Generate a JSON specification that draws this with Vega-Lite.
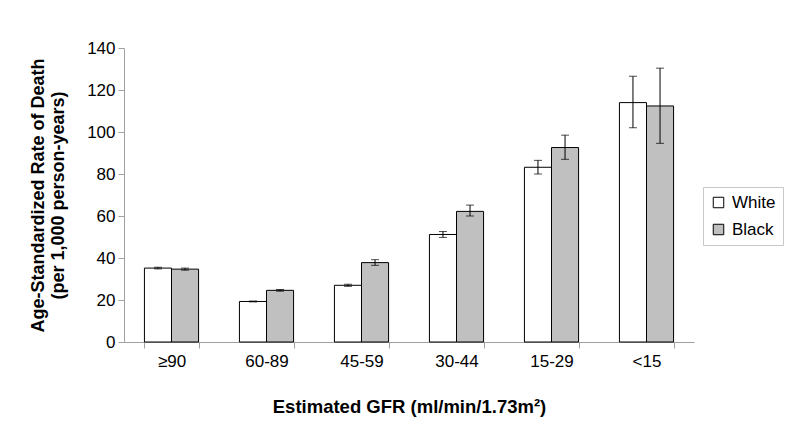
{
  "$schema": "https://vega.github.io/schema/vega-lite/v6.json",
  "width": 570,
  "height": 294,
  "autosize": "none",
  "padding": {"left": 124, "top": 48, "right": 106, "bottom": 98},
  "background": "white",
  "config": {"view": {"stroke": null}, "font": "Liberation Sans"},
  "data": {"values": [
    {"gfr": "≥90", "race": "White", "rate": 35.2, "lo": 34.8, "hi": 35.6},
    {"gfr": "≥90", "race": "Black", "rate": 34.7, "lo": 34.2, "hi": 35.2},
    {"gfr": "60-89", "race": "White", "rate": 19.3, "lo": 19.1, "hi": 19.5},
    {"gfr": "60-89", "race": "Black", "rate": 24.6, "lo": 24.2, "hi": 25.0},
    {"gfr": "45-59", "race": "White", "rate": 27.0, "lo": 26.5, "hi": 27.5},
    {"gfr": "45-59", "race": "Black", "rate": 37.8, "lo": 36.5, "hi": 39.2},
    {"gfr": "30-44", "race": "White", "rate": 51.2, "lo": 49.8, "hi": 52.6},
    {"gfr": "30-44", "race": "Black", "rate": 62.2, "lo": 60.0, "hi": 65.2},
    {"gfr": "15-29", "race": "White", "rate": 83.2, "lo": 80.0, "hi": 86.5},
    {"gfr": "15-29", "race": "Black", "rate": 92.6, "lo": 87.0, "hi": 98.5},
    {"gfr": "<15", "race": "White", "rate": 114.0, "lo": 102.0, "hi": 126.5},
    {"gfr": "<15", "race": "Black", "rate": 112.4, "lo": 94.6, "hi": 130.4}
  ]},
  "encoding": {
    "x": {
      "field": "gfr", "type": "nominal",
      "sort": ["≥90", "60-89", "45-59", "30-44", "15-29", "<15"],
      "scale": {"paddingInner": 0.43, "paddingOuter": 0.215},
      "axis": {
        "title": "Estimated GFR (ml/min/1.73m²)",
        "titleFontSize": 18.5, "titleFontWeight": "bold", "titleColor": "black", "titlePadding": 28,
        "labelFontSize": 17, "labelColor": "black", "labelAngle": 0, "labelPadding": 5,
        "tickBand": "extent", "tickSize": 6, "tickColor": "#a0a0a0",
        "domainColor": "#a0a0a0", "grid": false
      }
    },
    "xOffset": {"field": "race", "type": "nominal", "sort": ["White", "Black"], "scale": {"paddingInner": 0, "paddingOuter": 0}}
  },
  "layer": [
    {
      "mark": {"type": "bar", "stroke": "black", "strokeWidth": 1},
      "encoding": {
        "y": {
          "field": "rate", "type": "quantitative",
          "scale": {"domain": [0, 140], "nice": false},
          "axis": {
            "values": [0, 20, 40, 60, 80, 100, 120, 140],
            "title": ["Age-Standardized Rate of Death", "(per 1,000 person-years)"],
            "titleFontSize": 18, "titleFontWeight": "bold", "titleColor": "black", "titlePadding": 19,
            "labelFontSize": 17, "labelColor": "black", "labelPadding": 3,
            "tickSize": 6, "tickColor": "#a0a0a0", "domainColor": "#a0a0a0", "grid": false
          }
        },
        "fill": {
          "field": "race", "type": "nominal",
          "scale": {"domain": ["White", "Black"], "range": ["white", "#c0c0c0"]},
          "legend": {
            "title": null, "orient": "none", "legendX": 579, "legendY": 139,
            "strokeColor": "#c8c8c8", "padding": 7, "labelFontSize": 17, "labelColor": "black",
            "symbolType": "square", "symbolSize": 110, "symbolStrokeColor": "black", "symbolStrokeWidth": 1,
            "rowPadding": 9, "labelOffset": 5
          }
        }
      }
    },
    {
      "mark": {"type": "rule", "color": "black", "strokeWidth": 1},
      "encoding": {"y": {"field": "lo", "type": "quantitative"}, "y2": {"field": "hi"}}
    },
    {
      "mark": {"type": "tick", "color": "black", "size": 8, "thickness": 1},
      "encoding": {"y": {"field": "lo", "type": "quantitative"}}
    },
    {
      "mark": {"type": "tick", "color": "black", "size": 8, "thickness": 1},
      "encoding": {"y": {"field": "hi", "type": "quantitative"}}
    }
  ]
}
